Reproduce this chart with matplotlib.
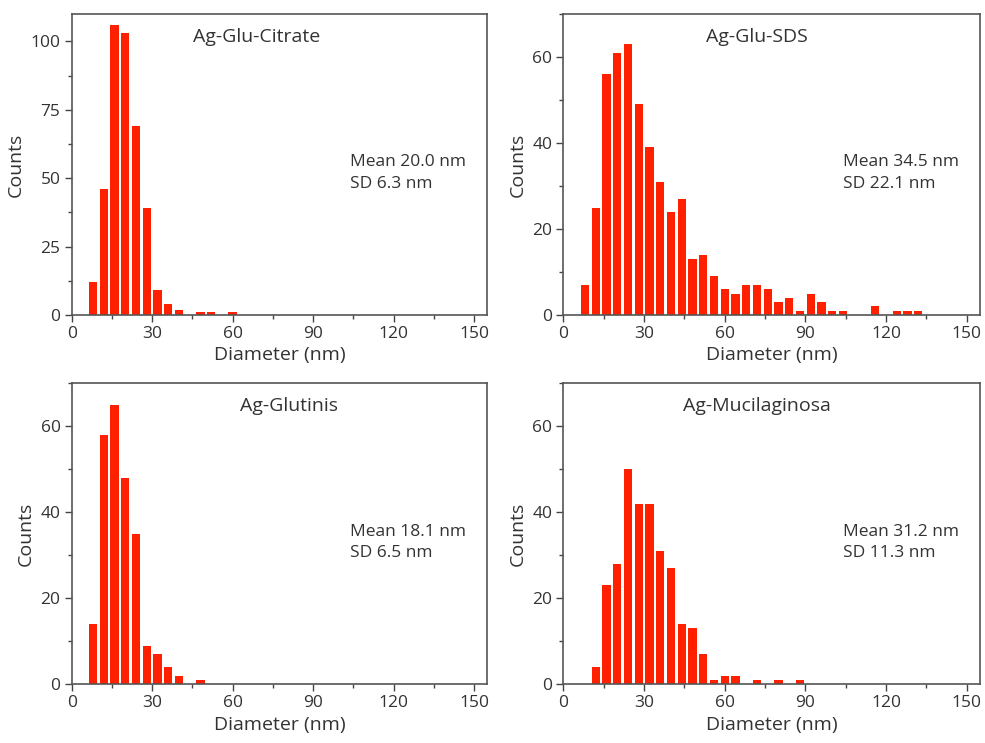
import matplotlib
matplotlib.use("Agg")
import matplotlib.pyplot as plt
from matplotlib.ticker import MultipleLocator

plt.rcParams['font.family'] = ['Open Sans', 'DejaVu Sans']

# bin centres (nm) and counts
citrate_x = [8, 12, 16, 20, 24, 28, 32, 36, 40, 44, 48, 52, 56, 60]
citrate_n = [12, 46, 106, 103, 69, 39, 9, 4, 2, 0, 1, 1, 0, 1]

sds_x = [8, 12, 16, 20, 24, 28, 32, 36, 40, 44, 48, 52, 56, 60, 64, 68,
         72, 76, 80, 84, 88, 92, 96, 100, 104, 108, 112, 116, 120, 124, 128, 132]
sds_n = [7, 25, 56, 61, 63, 49, 39, 31, 24, 27, 13, 14, 9, 6, 5, 7,
         7, 6, 3, 4, 1, 5, 3, 1, 1, 0, 0, 2, 0, 1, 1, 1]

glutinis_x = [8, 12, 16, 20, 24, 28, 32, 36, 40, 44, 48]
glutinis_n = [14, 58, 65, 48, 35, 9, 7, 4, 2, 0, 1]

muci_x = [12, 16, 20, 24, 28, 32, 36, 40, 44, 48, 52, 56, 60, 64, 68, 72, 76, 80, 84, 88]
muci_n = [4, 23, 28, 50, 42, 42, 31, 27, 14, 13, 7, 1, 2, 2, 0, 1, 0, 1, 0, 1]

names = ["Ag-Glu-Citrate", "Ag-Glu-SDS", "Ag-Glutinis", "Ag-Mucilaginosa"]
stats = ["Mean 20.0 nm\nSD 6.3 nm", "Mean 34.5 nm\nSD 22.1 nm",
         "Mean 18.1 nm\nSD 6.5 nm", "Mean 31.2 nm\nSD 11.3 nm"]
xs = [citrate_x, sds_x, glutinis_x, muci_x]
ns = [citrate_n, sds_n, glutinis_n, muci_n]
ymax = [110, 70, 70, 70]
ymaj = [25, 20, 20, 20]
title_x = [0.446, 0.465, 0.523, 0.464]

txt = '#333333'
fig = plt.figure(figsize=(9.85, 7.43), dpi=100)
boxes = [[0.0728, 0.576, 0.422, 0.405], [0.572, 0.576, 0.423, 0.405],
         [0.0728, 0.079, 0.422, 0.405], [0.572, 0.079, 0.423, 0.405]]

for i in range(4):
    ax = fig.add_axes(boxes[i])
    ax.bar(xs[i], ns[i], width=3.1, color='#ff2000', linewidth=0)
    ax.set_xlim(0, 155)
    ax.set_ylim(0, ymax[i])
    ax.xaxis.set_major_locator(MultipleLocator(30))
    ax.xaxis.set_minor_locator(MultipleLocator(15))
    ax.yaxis.set_major_locator(MultipleLocator(ymaj[i]))
    ax.yaxis.set_minor_locator(MultipleLocator(ymaj[i] / 2))
    ax.tick_params(which='both', direction='out', colors='#444444', labelcolor=txt,
                   labelsize=12.5, width=1)
    ax.tick_params(which='major', length=5, pad=3)
    ax.tick_params(which='minor', length=3)
    for s in ax.spines.values():
        s.set_color('#555555')
        s.set_linewidth(1.2)
    ax.set_xlabel("Diameter (nm)", fontsize=14, color=txt, labelpad=3)
    ax.set_ylabel("Counts", fontsize=14, color=txt, labelpad=4)
    ax.text(title_x[i], 0.925, names[i], transform=ax.transAxes, ha='center', va='center',
            fontsize=14, color=txt)
    ax.text(0.67, 0.472, stats[i], transform=ax.transAxes, ha='left', va='center',
            fontsize=12.5, color=txt, linespacing=1.45)

fig.savefig("out.png", dpi=100)
